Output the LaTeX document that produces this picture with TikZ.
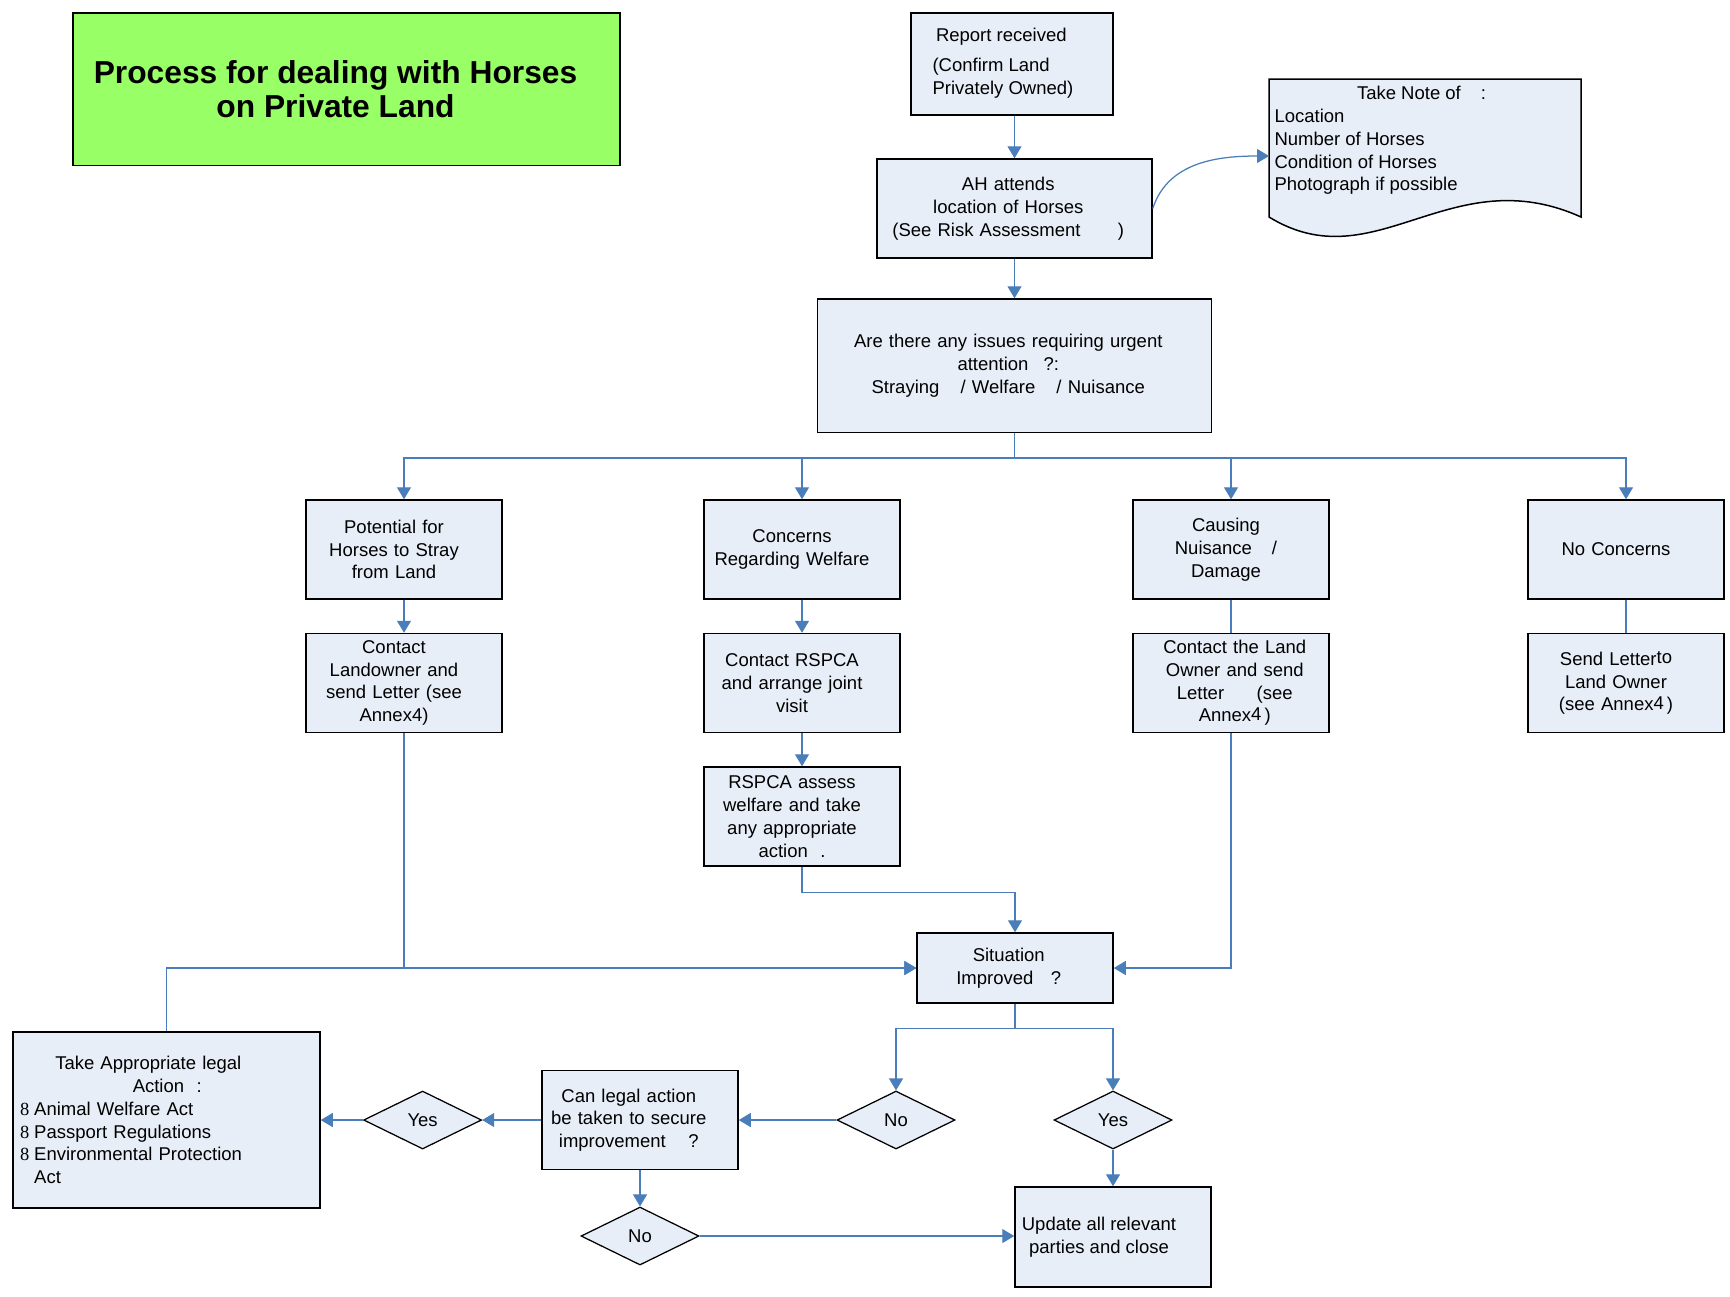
\documentclass[tikz,border=0pt]{standalone}
\usepackage{fontspec}
\setmainfont{Liberation Sans}
\newfontfamily\chkfont{Liberation Serif}
\usetikzlibrary{arrows.meta,shapes.geometric}
\definecolor{boxfill}{HTML}{E8EEF8}
\definecolor{linkblue}{HTML}{4A7EBB}
\definecolor{titlegreen}{HTML}{99FF66}
\newcommand{\chk}{\makebox[5.6pt][l]{\chkfont 8}}
\begin{document}
\begin{tikzpicture}[x=0.4pt,y=-0.4pt,
  every node/.style={font=\fontsize{7.4}{9.1}\selectfont},
  box/.style={draw=black, line width=0.6pt, fill=boxfill, align=center, inner sep=1pt},
  tsh/.style={execute at begin node={\leftskip=0pt plus 1fil\rightskip=#1 plus 1fil\parfillskip=0pt\relax}},
  tsh/.default=8pt,
  std/.style={box, minimum width=78.4pt, minimum height=39.6pt, text width=74pt, tsh},
  dia/.style={diamond, draw=black, line width=0.5pt, fill=boxfill, inner sep=0pt, minimum width=47.2pt, minimum height=23.2pt},
  txt/.style={align=center, inner sep=0pt},
  conn/.style={draw=linkblue, line width=0.5pt},
  arr/.style={conn, -{Triangle[length=4.8pt,width=5.6pt]}},
]
\useasboundingbox[fill=white] (0,0) rectangle (1730,1296);

% title
\node[draw=black, line width=0.6pt, fill=titlegreen, minimum width=218.8pt, minimum height=61pt] (title) at (346.5,89) {};
\node[txt, font=\fontsize{12.7}{13.7}\selectfont\bfseries] (titletxt) at (335.5,89) {Process for dealing with Horses\\on Private Land};

% top
\node[box, minimum width=80.8pt, minimum height=40.8pt] (report) at (1012,64) {};
\node[txt, align=left, anchor=west] (reporttxt) at (932,63) {\hspace*{1.4pt}Report received\\[3pt](Confirm Land\\Privately Owned)};
\node[box, minimum width=110pt, minimum height=39.6pt, text width=104pt, tsh=5pt] (ah) at (1014.5,208.5) {AH attends\\location of Horses\\(See Risk Assessment\hspace{15pt})};

% document shape
\draw[draw=black, line width=0.6pt, fill=boxfill] (1269,79) -- (1581,79) -- (1581,217)
  .. controls (1450,158) and (1375,282) .. (1269,217) -- cycle;
\node[txt, align=left, anchor=north west] (doctxt) at (1274,86) {\hspace*{33pt}Take Note of\hspace{8pt}:\\Location\\Number of Horses\\Condition of Horses\\Photograph if possible};
\coordinate (docL) at (1269,156);

\node[box, minimum width=157.6pt, minimum height=53.4pt, text width=150pt, tsh=5pt] (urgent) at (1014.5,365.75) {Are there any issues requiring urgent\\attention\hspace{6pt}?:\\Straying\hspace{6pt} / Welfare\hspace{6pt} / Nuisance};

% row 1
\node[std] (pot) at (404,549.5) {Potential for\\Horses to Stray\\from Land};
\node[std] (welf) at (802,549.5) {Concerns\\Regarding Welfare};
\node[std, tsh=4pt] (nuis) at (1231,549.5) {Causing\\Nuisance\hspace{8pt}/\\Damage};
\node[std] (nocon) at (1626,549.5) {No Concerns};

% row 2
\node[std] (c1) at (404,683) {Contact\\Landowner and\\send Letter (see\\Annex4)};
\node[std] (c2) at (802,683) {Contact RSPCA\\and arrange joint\\visit};
\node[std, tsh=-3pt] (c3) at (1231,683) {Contact the Land\\Owner and send\\Letter\hspace{13pt}(see\\Annex\raisebox{0.6pt}{4}\,)};
\node[std] (c4) at (1626,683) {Send Letter\raisebox{0.8pt}{to}\\Land Owner\\(see Annex\raisebox{0.6pt}{4}\,)};

\node[std] (assess) at (802,816.5) {RSPCA assess\\welfare and take\\any appropriate\\action\hspace{5pt}.};

\node[std, minimum height=28pt, tsh=5pt] (sit) at (1015,968) {Situation\\Improved\hspace{7pt}?};

% bottom
\node[box, minimum width=122.8pt, minimum height=70.4pt, text width=117pt, align=left] (take) at (166.5,1120)
  {\hspace*{14pt}Take Appropriate legal\\\hspace*{45pt}Action\hspace{5pt}:\\\chk Animal Welfare Act\\\chk Passport Regulations\\\chk Environmental Protection\\\hspace*{5.6pt}Act};
\node[std, tsh=9pt] (canlegal) at (640,1120) {Can legal action\\be taken to secure\\improvement\hspace{9pt}?};
\node[box, minimum width=78.4pt, minimum height=40pt] (update) at (1113,1237) {};
\node[txt] (updtxt) at (1099,1237) {Update all relevant\\parties and close};

\node[dia] (yesL) at (422.6,1120) {Yes};
\node[dia] (noR) at (896,1120) {No};
\node[dia] (yesR) at (1113,1120) {Yes};
\node[dia] (noB) at (640,1236) {No};

% connectors
\draw[arr] (ah.north |- report.south) -- (ah.north);
\draw[arr] (ah.east) to[out=72,in=180] (docL);
\draw[arr] (ah.south) -- (urgent.north);
\coordinate (bus) at (1014.5,458);
\draw[conn] (urgent.south) -- (bus);
\draw[arr] (bus) -| (pot.north);
\draw[arr] (bus) -| (welf.north);
\draw[arr] (bus) -| (nuis.north);
\draw[arr] (bus) -| (nocon.north);
\draw[arr] (pot.south) -- (c1.north);
\draw[arr] (welf.south) -- (c2.north);
\draw[conn] (nuis.south) -- (c3.north);
\draw[conn] (nocon.south) -- (c4.north);
\draw[arr] (c2.south) -- (assess.north);
\draw[arr] (assess.south) -- ++(0,25.5) -| (sit.north);
\draw[arr] (c1.south) |- (sit.west);
\draw[arr] (take.north) |- (sit.west);
\draw[arr] (c3.south) |- (sit.east);
\draw[arr] (sit.south) -- ++(0,25) -| (noR.north);
\draw[arr] (sit.south) -- ++(0,25) -| (yesR.north);
\draw[arr] (noR.west) -- (canlegal.east);
\draw[arr] (canlegal.west) -- (yesL.east);
\draw[arr] (yesL.west) -- (take.east);
\draw[arr] (canlegal.south) -- (noB.north);
\draw[arr] (noB.east) -- (noB.east -| update.west);
\draw[arr] (yesR.south) -- (update.north);
\end{tikzpicture}
\end{document}
